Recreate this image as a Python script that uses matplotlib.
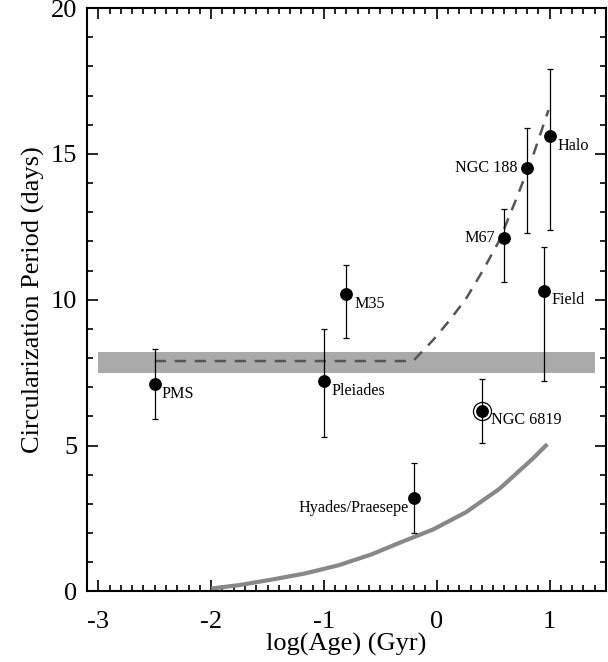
import numpy as np
import matplotlib
matplotlib.use('Agg')
import matplotlib.pyplot as plt
from matplotlib.ticker import MultipleLocator

plt.rcParams['font.family'] = ['Liberation Serif', 'DejaVu Serif']
plt.rcParams['axes.unicode_minus'] = False

# cluster data: log(age), circularization period, lower / upper errors
names = ['PMS', 'Pleiades', 'M35', 'Hyades/Praesepe', 'NGC 6819', 'M67', 'NGC 188', 'Field', 'Halo']
log_age = [-2.5, -1.0, -0.8, -0.2, 0.4, 0.6, 0.8, 0.95, 1.0]
p_circ = [7.1, 7.2, 10.2, 3.2, 6.2, 12.1, 14.5, 10.3, 15.6]
err_lo = [1.2, 1.9, 1.5, 1.2, 1.1, 1.5, 2.2, 3.1, 3.2]
err_hi = [1.2, 1.8, 1.0, 1.2, 1.1, 1.0, 1.4, 1.5, 2.3]
# label offsets in pixels and alignment
lab_dx = [7, 8, 8, -5, 9, -9, -10, 8, 8]
lab_dy = [-10, -10, -10, -10, -9, 0, 0, -9, -10]
lab_ha = ['left', 'left', 'left', 'right', 'left', 'right', 'right', 'left', 'left']

# gray band (observed initial period range)
band_x = [-3.0, 1.4]
band_lo, band_hi = 7.5, 8.2

# dashed model curve
dash_x = [-2.5, -0.21, -0.03, 0.115, 0.26, 0.41, 0.556, 0.70, 0.85, 0.99]
dash_y = [7.9, 7.9, 8.63, 9.30, 10.04, 11.01, 12.04, 13.41, 14.9, 16.5]

# solid gray model curve
solid_x = [-2.0, -1.75, -1.46, -1.165, -0.87, -0.58, -0.31, -0.03, 0.26, 0.556, 0.85, 0.98]
solid_y = [0.1, 0.22, 0.41, 0.62, 0.90, 1.27, 1.70, 2.13, 2.72, 3.52, 4.55, 5.05]

fig = plt.figure(figsize=(6.08, 6.62), dpi=100)
ax = fig.add_axes([0.1431, 0.1065, 0.8536, 0.8814])

ax.fill_between(band_x, band_lo, band_hi, color='#aaaaaa', lw=0, zorder=1)
ax.plot(dash_x, dash_y, color='#555555', lw=1.8, dashes=(4.5, 3.5), zorder=2)
ax.plot(solid_x, solid_y, color='#888888', lw=3.0, solid_capstyle='butt',
        solid_joinstyle='round', zorder=2)

ax.errorbar(log_age, p_circ, yerr=[err_lo, err_hi], fmt='o', color='black',
            ms=8.2, elinewidth=0.9, capsize=2.5, capthick=0.9, zorder=4)
i6819 = names.index('NGC 6819')
ax.plot(log_age[i6819], p_circ[i6819], 'o', mfc='none', mec='black', ms=13, mew=0.9, zorder=4)

for n, x, y, dx, dy, ha in zip(names, log_age, p_circ, lab_dx, lab_dy, lab_ha):
    ax.annotate(n, (x, y), xytext=(dx, dy), textcoords='offset pixels',
                ha=ha, va='center', fontsize=11.6)

ax.set_xlim(-3.1, 1.5)
ax.set_ylim(0, 20)
ax.xaxis.set_major_locator(MultipleLocator(1))
ax.xaxis.set_minor_locator(MultipleLocator(0.1))
ax.yaxis.set_major_locator(MultipleLocator(5))
ax.yaxis.set_minor_locator(MultipleLocator(1))
ax.tick_params(which='both', direction='in', top=True, right=True, width=1.2, labelsize=19)
ax.tick_params(axis='x', which='both', pad=14)
ax.tick_params(axis='y', which='both', pad=7)
ax.tick_params(which='major', length=8)
ax.tick_params(which='minor', length=4)
for sp in ax.spines.values():
    sp.set_linewidth(1.5)

ax.set_xlabel('log(Age) (Gyr)', fontsize=19, labelpad=0)
ax.set_ylabel('Circularization Period (days)', fontsize=19, labelpad=4)

fig.savefig('out.png', dpi=100)
